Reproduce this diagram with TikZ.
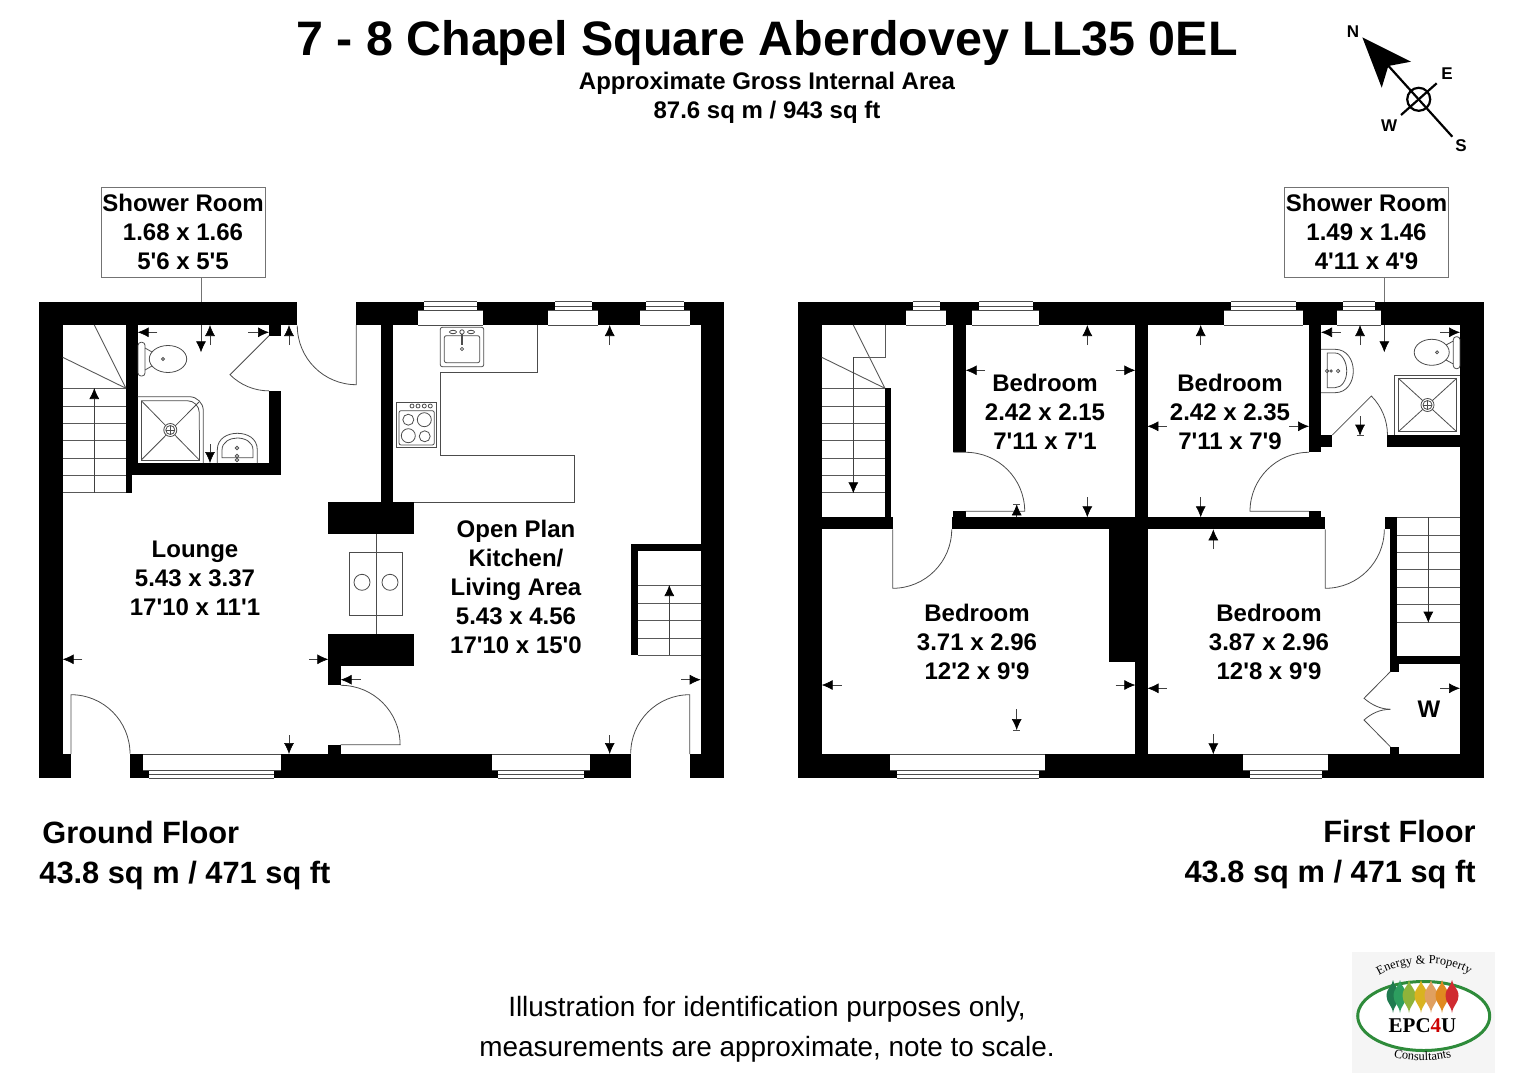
\documentclass[tikz,border=0pt]{standalone}
\usepackage{fontspec}
\setmainfont{Liberation Sans}
\newfontfamily\logofont{Liberation Serif}
\usetikzlibrary{arrows.meta, decorations.text}

\definecolor{logogreen}{HTML}{2E8B3A}
\newcommand{\ft}{\textquotesingle}

% windows: reveal left/right, frame left/right
\newcommand{\topwindow}[4]{
    \fill[white] (#1,310) rectangle (#2,325);
    \fill[white] (#3,301.7) rectangle (#4,310);
    \draw[fixture] (#1,325) -- (#2,325) (#1,310) -- (#2,310);
    \draw[fixture] (#3,301.7) -- (#4,301.7) (#3,306) -- (#4,306);
}
\newcommand{\bottomwindow}[4]{
    \fill[white] (#1,754) rectangle (#2,770);
    \fill[white] (#3,770) rectangle (#4,778.3);
    \draw[fixture] (#1,754) -- (#2,754) (#1,770) -- (#2,770);
    \draw[fixture] (#3,778.3) -- (#4,778.3) (#3,774.3) -- (#4,774.3);
}
\newcommand{\showerdrain}[2]{
    \draw[fixture] (#1,#2) circle[radius=6.5] (#1,#2) circle[radius=4.5];
    \draw[fixture] (#1-4.5,#2) -- (#1+4.5,#2) (#1,#2-4.5) -- (#1,#2+4.5);
}

\begin{document}
\begin{tikzpicture}[x=0.5pt, y=-0.5pt,
    wall/.style={fill=black},
    fixture/.style={draw=black!70, line width=0.4pt},
    tread/.style={draw=black!65, line width=0.45pt},
    dimarrow/.style={draw=black!75, line width=0.3pt, -{Latex[length=5.5pt,width=5pt,black]}},
    areabox/.style={draw=black!55, line width=0.4pt, minimum width=82pt, minimum height=45pt, inner sep=0pt, align=center, font=\fontsize{12}{14.5}\selectfont\bfseries},
    roomlabel/.style={align=center, inner sep=0pt, font=\fontsize{12}{14.5}\selectfont\bfseries},
    compassletter/.style={inner sep=0pt, font=\fontsize{8.5}{10}\selectfont\bfseries}]

    \useasboundingbox (0,0) rectangle (1534,1080);

    % titles
    \node[inner sep=0pt, font=\fontsize{24.2}{28}\selectfont\bfseries] (title) at (767,43) {7 - 8 Chapel Square Aberdovey LL35 0EL};
    \node[roomlabel] (grossarea) at (767,98) {Approximate Gross Internal Area\\87.6 sq m / 943 sq ft};
    \node[anchor=west, align=left, inner sep=0pt, font=\fontsize{15.4}{20}\selectfont\bfseries] (groundname) at (39,856) {\hspace{1.5pt}Ground Floor\\43.8 sq m / 471 sq ft};
    \node[anchor=east, align=right, inner sep=0pt, font=\fontsize{15.4}{20}\selectfont\bfseries] (firstname) at (1476,854.5) {First Floor\\43.8 sq m / 471 sq ft};
    \node[align=center, inner sep=0pt, font=\fontsize{13.95}{20}\selectfont] (disclaimer) at (767,1029) {Illustration for identification purposes only,\\measurements are approximate, note to scale.};

    % compass
    \draw[line width=1.1pt] (1375,51) -- (1452.3,136.7);
    \draw[line width=1.1pt] (1436.7,83.3) -- (1401,115);
    \draw[line width=1.1pt] (1418.7,99.3) circle[radius=11.5];
    \fill (1362.3,37.3) -- (1411,61.7) -- (1388.3,66) -- (1381.7,87.7) -- cycle;
    \node[compassletter] (north) at (1353,32) {N};
    \node[compassletter] (east) at (1447,74) {E};
    \node[compassletter] (west) at (1389,126) {W};
    \node[compassletter] (south) at (1461,146) {S};

    % ground floor walls
    \fill[wall] (38.5,301.7) rectangle (297.3,325);
    \fill[wall] (38.5,301.7) rectangle (62.7,778.3);
    \fill[wall] (38.5,754) rectangle (71,778.3);
    \fill[wall] (269,325) rectangle (280.7,335.7);
    \fill[wall] (126,325) rectangle (137.7,463);
    \fill[wall] (126,463) rectangle (280.7,475.3);
    \fill[wall] (126,475) rectangle (132,492.7);
    \fill[wall] (269,390.7) rectangle (280.7,475.3);
    \fill[wall] (356.3,301.7) rectangle (724.3,325);
    \fill[wall] (700.7,301.7) rectangle (724.3,778.3);
    \fill[wall] (380.7,325) rectangle (392.7,502);
    \fill[wall] (328.3,502) rectangle (414.3,534.3);
    \fill[wall] (328.3,634) rectangle (414.3,666);
    \fill[wall] (328.3,666) rectangle (340.7,685.3);
    \fill[wall] (328.3,744.7) rectangle (340.7,754);
    \fill[wall] (130,754) rectangle (630.7,778.3);
    \fill[wall] (689.7,754) rectangle (724.3,778.3);
    \fill[wall] (631,544.3) rectangle (700.7,551);
    \fill[wall] (631,544.3) rectangle (637.7,655);
    \topwindow{418.3}{483.3}{424.3}{477}
    \topwindow{548.3}{598.3}{555}{592.3}
    \topwindow{640}{690}{646}{684}
    \bottomwindow{143.3}{280.7}{149.3}{274.3}
    \bottomwindow{491.7}{590}{498.3}{584}

    % ground floor stairs
    \foreach \ty in {388.3,406,423.3,440.7,458.3,475.3,492.7}
        \draw[tread] (62.7,\ty) -- (126,\ty);
    \draw[tread] (126,388.3) -- (94.3,325) (126,388.3) -- (62.7,357.3);
    \draw[dimarrow] (94.3,492.7) -- (94.3,388);
    \foreach \ty in {585.7,603.3,620.5,638,655}
        \draw[tread] (637.7,\ty) -- (700.7,\ty);
    \draw[dimarrow] (669.3,655) -- (669.3,585);

    % ground floor doors
    \draw[fixture] (356.3,325) -- (356.3,384.7) arc[start angle=90, end angle=180, radius=59];
    \draw[fixture] (269,335.7) -- (230,374.7) arc[start angle=135, end angle=90, radius=55.2];
    \draw[fixture] (71,754) -- (71,694.7) arc[start angle=-90, end angle=0, radius=59];
    \draw[fixture] (340.7,685.3) arc[start angle=-90, end angle=0, radius=59.4] -- (340.7,744.7);
    \draw[fixture] (689.7,754) -- (689.7,694.7) arc[start angle=-90, end angle=-180, radius=59];

    % ground floor fixtures
    \draw[fixture, rounded corners=1.5pt] (138,342.3) rectangle (145,376);
    \draw[fixture] (168,359) ellipse[x radius=18.7, y radius=13.5];
    \draw[fixture] (145,348) -- (152,352) (145,370) -- (152,366);
    \draw[fixture] (163,359) circle[radius=1.5];
    \draw[fixture, rounded corners=7pt] (137.7,396.7) -- (203.3,396.7) -- (203.3,463);
    \draw[fixture, rounded corners=6pt] (141.3,400.7) -- (199.3,400.7) -- (199.3,430);
    \draw[fixture] (199.3,430) -- (199.3,460) -- (141.3,460) -- (141.3,400.7);
    \draw[fixture] (141.3,400.7) -- (199.3,460) (141.3,460) -- (199,402);
    \fill[white] (170.3,430) circle[radius=6.5];
    \showerdrain{170.3}{430}
    \draw[fixture] (217.3,463) -- (217.3,450) .. controls (217.3,438) and (228,433.3) .. (237.3,433.3) .. controls (247,433.3) and (257.3,438) .. (257.3,450) -- (257.3,463);
    \draw[fixture] (222,457.7) -- (222,450) .. controls (222,442) and (230,438) .. (237.3,438) .. controls (245,438) and (253,442) .. (253,450) -- (253,457.7) -- cycle;
    \draw[fixture] (237,448) circle[radius=1.7] (237,456) circle[radius=1.7] (237,460) circle[radius=1.7];

    % kitchen
    \draw[fixture] (537.7,325) -- (537.7,372.7) -- (440.3,372.7) -- (440.3,455) -- (574.7,455) -- (574.7,502.3) -- (414.3,502.3);
    \draw[fixture, rounded corners=1pt] (440.3,327.3) rectangle (483.7,366.7);
    \draw[fixture, rounded corners=1pt] (444.3,335.7) rectangle (479.7,362.7);
    \draw[fixture] (453,332) ellipse[x radius=3.5, y radius=1.7] (471,332) ellipse[x radius=3.5, y radius=1.7] (462,332) circle[radius=2.2] (462,349) circle[radius=1.6];
    \draw[fixture, line width=0.7pt] (462,334) -- (462,345);
    \draw[fixture] (396.3,402.3) rectangle (436.7,447.7);
    \draw[fixture, rounded corners=1pt] (399,410.7) rectangle (434.3,445);
    \foreach \kx in {412,418,424.3,430.3}
        \draw[fixture] (\kx,406) circle[radius=2];
    \draw[fixture] (408.3,419.7) circle[radius=5.5] (424.3,419.7) circle[radius=7] (408.3,435.7) circle[radius=7] (424.7,436.3) circle[radius=5.5];

    % hearth
    \draw[fixture] (349.3,552.3) rectangle (402.7,615.7);
    \draw[fixture] (376.3,534.3) -- (376.3,634);
    \draw[fixture] (362,582.3) circle[radius=8] (390,582.3) circle[radius=8];

    % first floor walls
    \fill[wall] (797.7,301.7) rectangle (1484,325);
    \fill[wall] (797.7,301.7) rectangle (821.7,778.3);
    \fill[wall] (1460,301.7) rectangle (1484,778.3);
    \fill[wall] (797.7,754.3) rectangle (1484,778.3);
    \fill[wall] (953.3,325) rectangle (965.7,452.3);
    \fill[wall] (953.3,511.3) rectangle (965.7,517.3);
    \fill[wall] (821.7,517.3) rectangle (892.7,529.3);
    \fill[wall] (952,517.3) rectangle (1325.3,529.3);
    \fill[wall] (885,388.3) rectangle (891.3,517.3);
    \fill[wall] (1135.3,325) rectangle (1147.5,754.3);
    \fill[wall] (1109,529.3) rectangle (1135.3,661.7);
    \fill[wall] (1309,325) rectangle (1321,452.3);
    \fill[wall] (1321,435) rectangle (1332.3,446.7);
    \fill[wall] (1387.3,435) rectangle (1460,447.3);
    \fill[wall] (1309,511.3) rectangle (1321,517.3);
    \fill[wall] (1384.7,517.3) rectangle (1397.3,529.3);
    \fill[wall] (1390.3,529.3) rectangle (1397.3,664.3);
    \fill[wall] (1390.3,656) rectangle (1460,664.3);
    \fill[wall] (1390.3,664) rectangle (1398.7,671.7);
    \fill[wall] (1390.3,746.7) rectangle (1398.7,754.3);
    \topwindow{906}{946}{912.7}{940}
    \topwindow{972.3}{1038.7}{978.7}{1032.7}
    \topwindow{1224.3}{1302.7}{1230.7}{1296.3}
    \topwindow{1337.3}{1381}{1343.3}{1375}
    \bottomwindow{890.3}{1045}{896.7}{1039}
    \bottomwindow{1243.3}{1328}{1250}{1322.3}

    % first floor stairs
    \foreach \ty in {388.3,406,423.3,440.7,458.3,475.3,492.7}
        \draw[tread] (821.7,\ty) -- (885,\ty);
    \draw[tread] (885,388.3) -- (853.3,325) (885,388.3) -- (821.7,357.3);
    \draw[tread] (885,325) -- (885,357.3) -- (853.3,357.3);
    \draw[dimarrow] (853.3,357.3) -- (853.3,493.3);
    \foreach \ty in {517.3,535,552.3,569.7,587,604.7,622}
        \draw[tread] (1397.3,\ty) -- (1460,\ty);
    \draw[dimarrow] (1428.3,517.3) -- (1428.3,622.7);

    % first floor doors
    \draw[fixture] (953.3,452.3) -- (965.7,452.3) arc[start angle=-90, end angle=0, radius=59] -- (965.7,511.3);
    \draw[fixture] (892.7,529.3) -- (892.7,588.3) arc[start angle=90, end angle=0, radius=59];
    \draw[fixture] (1309,452.3) arc[start angle=-90, end angle=-180, radius=59] -- (1309,511.3);
    \draw[fixture] (1325.3,529.3) -- (1325.3,588.3) arc[start angle=90, end angle=0, radius=59];
    \draw[fixture] (1332.3,435) -- (1371.3,396) arc[start angle=-45, end angle=0, radius=55.2];
    \draw[fixture] (1390.3,671.7) -- (1364,698.3) .. controls (1372,705) and (1380,709) .. (1390.3,709.3);
    \draw[fixture] (1390.3,746.7) -- (1364,720) .. controls (1372,713) and (1380,709.5) .. (1390.3,709.3);

    % first floor fixtures
    \draw[fixture] (1321,349.3) -- (1335,349.3) .. controls (1347,349.3) and (1353.3,360) .. (1353.3,371) .. controls (1353.3,382) and (1347,392.7) .. (1335,392.7) -- (1321,392.7);
    \draw[fixture] (1327.3,353) -- (1335,353) .. controls (1342,353) and (1346.7,362) .. (1346.7,371) .. controls (1346.7,380) and (1342,387.7) .. (1335,387.7) -- (1327.3,387.7) -- cycle;
    \draw[fixture] (1338,371) circle[radius=1.7] (1327,371) circle[radius=1.7] (1331,371) circle[radius=1.2];
    \draw[fixture, rounded corners=1.5pt] (1453.3,336.7) rectangle (1460,368.7);
    \draw[fixture] (1431.7,352.3) ellipse[x radius=17.5, y radius=13];
    \draw[fixture] (1453.3,341) -- (1446,345) (1453.3,364) -- (1446,360);
    \draw[fixture] (1437,352.3) circle[radius=1.5];
    \draw[fixture] (1394.3,435) -- (1394.3,375) -- (1460,375);
    \draw[fixture] (1398.3,378.3) rectangle (1456.7,431.7);
    \draw[fixture] (1398.3,378.3) -- (1456.7,431.7) (1398.3,431.7) -- (1456.7,378.3);
    \fill[white] (1427.5,405) circle[radius=6.5];
    \showerdrain{1427.5}{405}

    % dimension arrows
    \foreach \ax/\ay/\bx/\by in {157.3/332.3/137.7/332.3, 201/325/201/352.3, 210/345/210/325, 248.3/332.3/269/332.3, 289/345/289/325, 210/444/210/463,
        609.7/345/609.7/325, 82.3/659.3/62.7/659.3, 309/659.3/328.3/659.3, 360.7/679.7/340.7/679.7, 289/735/289/754, 681/679.7/700.7/679.7, 609.7/735/609.7/754,
        985/370.3/965.7/370.3, 1115.7/370.3/1135.3/370.3, 1087.3/345/1087.3/325, 1087.3/497.3/1087.3/517.3, 1016.7/517.3/1016.7/504.3,
        841.7/685/821.7/685, 1115.7/685/1135.3/685, 1016.7/709.3/1016.7/730,
        1166.7/426.3/1147.3/426.3, 1289.3/426.3/1309/426.3, 1200.7/345/1200.7/325, 1200.7/497.3/1200.7/517.3,
        1213.3/549/1213.3/529.3, 1213.3/734/1213.3/754.3, 1166.7/688.3/1147.5/688.3, 1440/688.3/1460/688.3,
        1340.7/332.3/1321/332.3, 1360/345/1360/325, 1384.3/325/1384.3/352.3, 1440/332.3/1460/332.3, 1360/416/1360/435.7}
        \draw[dimarrow] (\ax,\ay) -- (\bx,\by);
    \draw[fixture] (1013.2,504.3) -- (1020.2,504.3) (1013.2,730) -- (1020.2,730) (1356.5,435.7) -- (1363.5,435.7);

    % room labels
    \node[roomlabel] (lounge) at (195,578) {Lounge\\5.43 x 3.37\\17\ft{}10 x 11\ft{}1};
    \node[roomlabel] (kitchenliving) at (516,587) {Open Plan\\Kitchen/\\Living Area\\5.43 x 4.56\\17\ft{}10 x 15\ft{}0};
    \node[roomlabel] (bedroomone) at (1045,412) {Bedroom\\2.42 x 2.15\\7\ft{}11 x 7\ft{}1};
    \node[roomlabel] (bedroomtwo) at (1230,412) {Bedroom\\2.42 x 2.35\\7\ft{}11 x 7\ft{}9};
    \node[roomlabel] (bedroomthree) at (977,642) {Bedroom\\3.71 x 2.96\\12\ft{}2 x 9\ft{}9};
    \node[roomlabel] (bedroomfour) at (1269,642) {Bedroom\\3.87 x 2.96\\12\ft{}8 x 9\ft{}9};
    \node[roomlabel] (wardrobe) at (1429,709) {W};

    % shower room boxes
    \node[areabox] (showerground) at (183,232) {Shower Room\\1.68 x 1.66\\5\ft{}6 x 5\ft{}5};
    \node[areabox] (showerfirst) at (1366.5,232) {Shower Room\\1.49 x 1.46\\4\ft{}11 x 4\ft{}9};
    \coordinate (showergroundpin) at (201,301.7);
    \coordinate (showerfirstpin) at (1384.3,301.7);
    \draw[draw=black!55, line width=0.4pt] (showergroundpin |- showerground.south) -- (showergroundpin);
    \draw[draw=black!55, line width=0.4pt] (showerfirstpin |- showerfirst.south) -- (showerfirstpin);

    % logo
    \fill[black!4] (1352,952) rectangle (1495,1073);
    \fill[white] (1423.7,1016) ellipse[x radius=66, y radius=34.5];
    \draw[logogreen, line width=1.5pt] (1423.7,1016) ellipse[x radius=66, y radius=34.5];
    \foreach \dx/\dc in {1393/1F7A4F, 1400/2D9E5F, 1409/8FB33A, 1421/D9B320, 1431/E0A060, 1442/E08A20, 1452/D02B30}{
        \definecolor{dropcolor}{HTML}{\dc}
        \fill[dropcolor, shift={(\dx,0)}] (0,980) .. controls (0.5,986) and (6.5,988) .. (6.5,996) .. controls (6.5,1003) and (1,1005) .. (0,1013) .. controls (-1,1005) and (-6.5,1003) .. (-6.5,996) .. controls (-6.5,988) and (-0.5,986) .. (0,980);
    }
    \node[inner sep=0pt, font=\logofont\fontsize{10.5}{12}\selectfont\bfseries] (logoname) at (1422.5,1026) {EPC\textcolor{red!80!black}{4}U};
    \path[decorate, decoration={text along path, text align=center, text={|\logofont\fontsize{6.2}{7}\selectfont|Energy {\&} Property}}] (1375,978) .. controls (1400,960) and (1450,958) .. (1473,977);
    \path[decorate, decoration={text along path, text align=center, text={|\logofont\fontsize{6.2}{7}\selectfont|Consultants}}] (1390,1056) .. controls (1410,1062) and (1435,1062) .. (1455,1056);
\end{tikzpicture}
\end{document}
